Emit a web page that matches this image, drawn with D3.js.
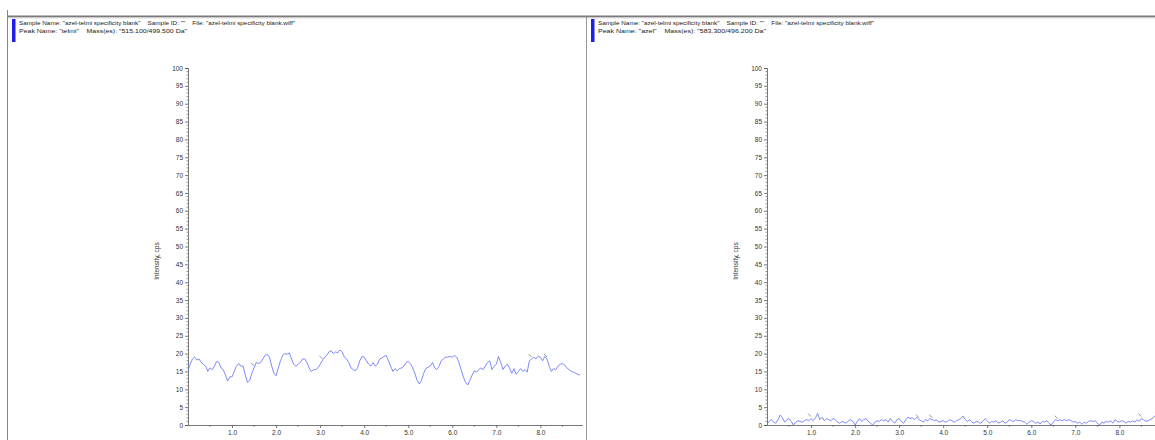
<!DOCTYPE html>
<html>
<head>
<meta charset="utf-8">
<script src="https://cdn.jsdelivr.net/npm/d3@7"></script>
<style>
  html, body { margin: 0; padding: 0; background: #fff; overflow: hidden; }
  svg { display: block; font-family: "Liberation Sans", Arial, sans-serif; }
  .hdr { white-space: pre; }
</style>
</head>
<body>
<svg id="chart" width="1155" height="440"></svg>
<script>
// Retention time grid (min) shared by both traces
const times = d3.range(0, 179).map(i => +(i * 0.05).toFixed(2));

// XIC intensity (cps) for telmi 515.100/499.500 Da
const telmiIntensity = [
  15.3, 17, 18.5, 19, 18.2, 18.5, 17.5, 17, 16.5, 15, 16, 15.5, 16.5, 17.8, 17.5, 16, 15.5, 14, 12.3, 13.5,
  13.5, 15, 16.5, 17.2, 16.5, 16.5, 14, 11.9, 12.5, 14.5, 16, 17.5, 17.2, 17.5, 18.5, 19.5, 19.8, 19, 16.5, 14.5,
  13.8, 16, 18, 19.5, 20, 19.8, 20.2, 18.5, 17, 16.5, 17, 17.5, 18.5, 18.5, 17.5, 16, 15, 15.5, 15.5, 16,
  17, 18, 19, 19.5, 20.5, 20.8, 20, 20.5, 20.2, 21, 20.5, 19, 18.5, 17.5, 16, 15.5, 15.2, 16, 18, 19.2,
  19, 18, 17, 16.5, 17.5, 16.5, 17, 18.5, 18.8, 19.2, 19.5, 18, 16.5, 15, 15.8, 15.2, 15.8, 16, 16.5, 17.5,
  17.8, 17.2, 16, 14.5, 12.5, 11.5, 12.5, 14.5, 15.8, 16.2, 16.5, 17.5, 16, 15.5, 16.5, 18, 18.5, 19, 19, 19.2,
  19, 19.5, 19, 17.5, 15.5, 13.5, 12, 11.2, 12.5, 14, 15.2, 14.8, 15.5, 16, 15.5, 16.5, 17.5, 18, 15.5, 16.5,
  17, 19.2, 17.5, 15.5, 16.5, 17, 16, 14.5, 15.8, 14.2, 15, 15.8, 15, 15.5, 14.8, 18, 18.5, 19, 18.5, 19.3,
  19, 18, 19.2, 18.5, 16.5, 15, 15.8, 15.5, 16.5, 17, 17.2, 16.8, 16, 15.5, 15, 14.8, 14.5, 14.2, 14
];

// XIC intensity (cps) for azel 583.300/496.200 Da
const azelIntensity = [
  0.3, 1, 1.5, 0.8, 0.5, 1.5, 2.8, 2, 0.8, 1.5, 1.8, 1, 0, 0.8, 1.2, 1, 0.8, 1.2, 1.5, 1.2,
  1.8, 1.2, 2, 3.2, 1.5, 2.2, 1.2, 1.8, 1.5, 1.2, 1.8, 1.5, 0.8, 0.5, 1, 0.8, 0.5, 1.2, 1.5, 1,
  0, 1, 1.8, 1, 1.5, 1.8, 1, 0.5, 0, 0.8, 1.2, 1, 1.5, 1.2, 1.5, 0.8, 1.8, 1, 0.5, 1.5,
  1.8, 1, 0.5, 1.5, 2.2, 1.8, 2, 1.5, 2.2, 1.5, 1.2, 0.8, 1.5, 1.2, 1.8, 1.5, 1.2, 1.5, 0.8, 1,
  1.2, 0.8, 1, 1.5, 1.2, 0.8, 1.2, 1.5, 1.8, 2.5, 1.5, 1, 1.5, 0.8, 0.5, 1, 0.8, 0.5, 1, 1.8,
  1.2, 0.5, 1, 0.8, 1.2, 0.5, 0.8, 1.2, 0.5, 0.8, 1.5, 1.2, 1, 1.5, 1.2, 1.3, 1, 0.8, 0.2, 0.8,
  1.2, 1, 0.5, 0.8, 0.3, 1, 0.8, 1.2, 0.5, 0, 0.8, 1.5, 1.2, 1.5, 1.2, 1.5, 1.2, 1.5, 1.2, 0.8,
  1, 0.5, 0.8, 0.2, 0.8, 0.5, 1, 1.2, 1, 1.2, 0.5, 0, 0.8, 0.5, 1, 0.8, 1.2, 0.5, 1.5, 1,
  0.8, 1.2, 1, 0.5, 1, 0.8, 1.2, 0.8, 1.5, 1, 1.8, 1.5, 1, 1.2, 1.5, 1.8, 2.5, 2.2, 2.3
];

// Peak-split markers drawn by the integrator
const telmiMarks = [1.5, 3.05, 7.8, 8.15];
const azelMarks = [1.0, 3.45, 3.75, 6.6, 8.5];

const yTicks = d3.range(0, 101, 5);
const xTicks = [1, 2, 3, 4, 5, 6, 7, 8];
const xTickLabels = ["1.0", "2.0", "3.0", "4.0", "5.0", "6.0", "7.0", "8.0"];

const panels = [
  {
    left: 7, right: 586,
    header1: 'Sample Name: "azel-telmi specificity blank"    Sample ID: ""    File: "azel-telmi specificity blank.wiff"',
    header2: 'Peak Name: "telmi"    Mass(es): "515.100/499.500 Da"',
    axisX: 188, values: telmiIntensity, marks: telmiMarks
  },
  {
    left: 586, right: 1160,
    header1: 'Sample Name: "azel-telmi specificity blank"    Sample ID: ""    File: "azel-telmi specificity blank.wiff"',
    header2: 'Peak Name: "azel"    Mass(es): "583.300/496.200 Da"',
    axisX: 767, values: azelIntensity, marks: azelMarks
  }
];

const svg = d3.select("#chart");
const axisColor = "#555";
const traceColor = "#6f7dfb";

// Window frame: top rule and left edge
svg.append("line").attr("x1", 7).attr("x2", 1155).attr("y1", 16.5).attr("y2", 16.5)
  .attr("stroke", "#7a7a7a").attr("stroke-width", 2);
svg.append("line").attr("x1", 7).attr("x2", 1155).attr("y1", 18).attr("y2", 18)
  .attr("stroke", "#ddd").attr("stroke-width", 1);
svg.append("line").attr("x1", 7.5).attr("x2", 7.5).attr("y1", 10).attr("y2", 440)
  .attr("stroke", "#888").attr("stroke-width", 1);

panels.forEach(p => {
  const g = svg.append("g");

  // Panel divider
  if (p.left > 10) {
    g.append("line").attr("x1", p.left + 0.5).attr("x2", p.left + 0.5)
      .attr("y1", 17).attr("y2", 440).attr("stroke", "#999").attr("stroke-width", 1);
  }

  // Header with blue selection bar
  g.append("rect").attr("x", p.left + 5).attr("y", 19).attr("width", 3.5).attr("height", 23)
    .attr("fill", "#1f1fe6");
  g.append("text").attr("class", "hdr").attr("x", p.left + 12).attr("y", 25).attr("font-size", 6)
    .attr("fill", "#222").attr("textLength", 276).attr("lengthAdjust", "spacingAndGlyphs")
    .text(p.header1);
  g.append("text").attr("class", "hdr").attr("x", p.left + 12).attr("y", 33).attr("font-size", 6)
    .attr("fill", "#222").attr("textLength", 168).attr("lengthAdjust", "spacingAndGlyphs")
    .text(p.header2);

  const x = d3.scaleLinear().domain([0, 8.95]).range([p.axisX, p.axisX + 8.95 * 44.05]);
  const y = d3.scaleLinear().domain([0, 100]).range([425, 68]);

  const plot = g.append("g");
  plot.append("clipPath").attr("id", "clip" + p.left)
    .append("rect").attr("x", p.left + 1).attr("y", 0).attr("width", p.right - p.left - 2).attr("height", 440);
  plot.attr("clip-path", `url(#clip${p.left})`);

  // Y axis: major ticks every 5, minor every 1
  const yAxis = d3.axisLeft(y).tickValues(yTicks).tickFormat(d3.format("d")).tickSize(3).tickPadding(2);
  const ya = plot.append("g").attr("transform", `translate(${p.axisX},0)`).call(yAxis);
  ya.select(".domain").attr("stroke", axisColor).attr("stroke-width", 0.8);
  ya.selectAll(".tick line").attr("stroke", axisColor).attr("stroke-width", 0.8);
  ya.selectAll(".tick text").attr("font-size", 6.5).attr("fill", "#333")
    .attr("font-family", '"Liberation Sans", Arial, sans-serif');
  plot.append("g").selectAll("line").data(d3.range(0, 101, 1).filter(v => v % 5 !== 0)).join("line")
    .attr("x1", p.axisX - 1.5).attr("x2", p.axisX).attr("y1", d => y(d)).attr("y2", d => y(d))
    .attr("stroke", axisColor).attr("stroke-width", 0.6);

  // X axis: major ticks at whole minutes, minor at half minutes
  const xAxis = d3.axisBottom(x).tickValues(xTicks).tickFormat((d, i) => xTickLabels[i])
    .tickSize(3).tickPadding(2).tickSizeOuter(0);
  const xa = plot.append("g").attr("transform", `translate(0,425)`).call(xAxis);
  xa.select(".domain").attr("stroke", axisColor).attr("stroke-width", 0.8);
  xa.selectAll(".tick line").attr("stroke", axisColor).attr("stroke-width", 0.8);
  xa.selectAll(".tick text").attr("font-size", 6.5).attr("fill", "#333")
    .attr("font-family", '"Liberation Sans", Arial, sans-serif');
  plot.append("g").selectAll("line").data(d3.range(0.5, 8.9, 1)).join("line")
    .attr("x1", d => x(d)).attr("x2", d => x(d)).attr("y1", 425).attr("y2", 427)
    .attr("stroke", axisColor).attr("stroke-width", 0.6);

  // Y axis title
  plot.append("text").attr("transform", `translate(${p.axisX - 29},261) rotate(-90)`)
    .attr("text-anchor", "middle").attr("font-size", 6.5).attr("fill", "#333").text("Intensity, cps");

  // Chromatogram trace
  const pts = times.map((t, i) => [t, p.values[i]]);
  const line = d3.line().x(d => x(d[0])).y(d => y(d[1]));
  plot.append("path").datum(pts).attr("d", line).attr("fill", "none")
    .attr("stroke", traceColor).attr("stroke-width", 0.9).attr("stroke-linejoin", "round");

  // Integration markers
  const valueAt = t => p.values[Math.round(t / 0.05)];
  plot.append("g").selectAll("path").data(p.marks).join("path")
    .attr("d", t => {
      const cx = x(t), cy = y(valueAt(t)) - 2;
      return `M${cx - 3},${cy - 3}L${cx},${cy}`;
    })
    .attr("stroke", "#777").attr("stroke-width", 0.8).attr("fill", "none");
});
</script>
</body>
</html>
